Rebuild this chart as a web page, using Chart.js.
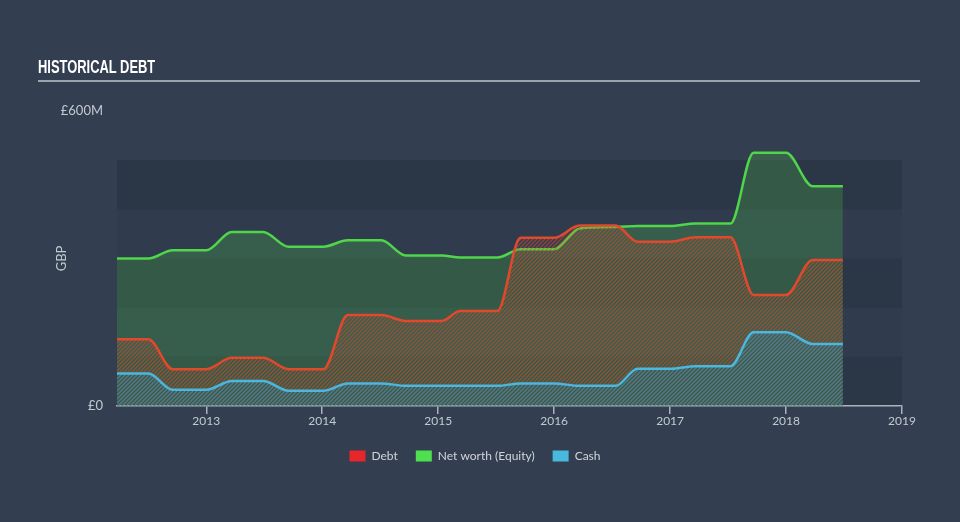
<!DOCTYPE html>
<html>
<head>
<meta charset="utf-8">
<script src="https://cdn.jsdelivr.net/npm/chart.js@4.4.1/dist/chart.umd.min.js"></script>
<style>
  html, body { margin: 0; padding: 0; background: #333f50; }
  #wrap { position: relative; width: 960px; height: 522px; }
  #title {
    position: absolute; left: 38px; top: 57px;
    color: #ffffff; font: bold 19px "Liberation Sans Narrow", sans-serif;
    line-height: 19px; white-space: nowrap;
    transform: scaleX(0.68); transform-origin: left top;
  }
  #rule { position: absolute; left: 38px; top: 80px; width: 882px; height: 2px; background: #9ba4ae; }
  canvas { position: absolute; left: 0; top: 0; }
</style>
</head>
<body>
<div id="wrap">
  <canvas id="chart" width="960" height="522"></canvas>
  <div id="title">HISTORICAL DEBT</div>
  <div id="rule"></div>
</div>
<script>
// Data (decimal years, values in £M)
const dates = [2012.23, 2012.5, 2012.71, 2013.0, 2013.22, 2013.49, 2013.71, 2014.01, 2014.22, 2014.51,
               2014.72, 2015.03, 2015.19, 2015.51, 2015.71, 2016.0, 2016.22, 2016.53, 2016.72, 2017.0,
               2017.22, 2017.52, 2017.72, 2018.0, 2018.23, 2018.49];
const debt   = [136, 136, 75, 75, 98, 98, 75, 75, 185, 185, 173, 173, 193, 193, 342, 342, 367, 367, 334, 334, 343, 343, 226, 226, 297, 297];
const equity = [300, 300, 317, 317, 354, 354, 324, 324, 337, 337, 306, 306, 302, 302, 319, 319, 361, 364, 366, 366, 371, 371, 515, 515, 447, 447];
const cash   = [66, 66, 33, 33, 51, 51, 31, 31, 46, 46, 41, 41, 41, 41, 46, 46, 41, 41, 76, 76, 81, 81, 150, 150, 126, 126];
const yearTicks = [2013, 2014, 2015, 2016, 2017, 2018, 2019];
const valueTicks = [0, 600];

const labelColor = '#c3c9d1';

function toPoints(values) {
    return values.map((v, i) => ({ x: dates[i], y: v }));
}

// diagonal hatch fill
function hatch(color) {
    const c = document.createElement('canvas');
    c.width = 4; c.height = 4;
    const g = c.getContext('2d');
    g.strokeStyle = color;
    g.lineWidth = 1.4;
    g.beginPath();
    g.moveTo(0, 4); g.lineTo(4, 0);
    g.moveTo(-1, 1); g.lineTo(1, -1);
    g.moveTo(3, 5); g.lineTo(5, 3);
    g.stroke();
    return g.createPattern(c, 'repeat');
}

// alternating horizontal bands behind the plot
const bands = {
    id: 'bands',
    beforeDraw(chart) {
        const { ctx, chartArea, scales } = chart;
        const y = scales.y;
        ctx.save();
        for (let i = 0; i < 5; i++) {
            const top = y.getPixelForValue((i + 1) * 100);
            const bottom = y.getPixelForValue(i * 100);
            ctx.fillStyle = i % 2 === 0 ? 'rgba(20,28,38,0.22)' : 'rgba(20,28,38,0.07)';
            ctx.fillRect(chartArea.left, top, chartArea.right - chartArea.left, bottom - top);
        }
        ctx.restore();
    }
};

// legend sits centred on the page, not on the plot
const legendShift = {
    id: 'legendShift',
    afterLayout(chart) {
        chart.legend.left += 24;
        chart.legend.right += 24;
    }
};

const ctx = document.getElementById('chart').getContext('2d');
new Chart(ctx, {
    type: 'line',
    data: {
        datasets: [
            {
                label: 'Debt',
                data: toPoints(debt),
                borderColor: 'rgb(226,72,44)',
                backgroundColor: hatch('rgba(214,78,50,0.55)'),
                legendColor: '#e8262a',
                fill: 'origin',
                order: 1
            },
            {
                label: 'Net worth (Equity)',
                data: toPoints(equity),
                borderColor: '#4fd64a',
                backgroundColor: 'rgba(72,160,74,0.33)',
                legendColor: '#4fe04f',
                fill: 'origin',
                order: 2
            },
            {
                label: 'Cash',
                data: toPoints(cash),
                borderColor: '#4bb6de',
                backgroundColor: hatch('rgba(40,150,200,0.6)'),
                legendColor: '#48b8de',
                fill: 'origin',
                order: 0
            }
        ]
    },
    options: {
        responsive: false,
        animation: false,
        layout: { padding: { top: 111, right: 58, bottom: 50, left: 0 } },
        elements: {
            point: { radius: 0 },
            line: { borderWidth: 2.5, cubicInterpolationMode: 'monotone' }
        },
        scales: {
            x: {
                type: 'linear',
                min: 2012.23,
                max: 2019,
                afterBuildTicks: s => { s.ticks = yearTicks.map(v => ({ value: v })); },
                afterFit: s => { s.height = 26; },
                ticks: {
                    color: labelColor,
                    font: { family: 'Lato', size: 12 },
                    padding: 0,
                    maxRotation: 0,
                    callback: v => String(v)
                },
                grid: { drawOnChartArea: false, drawTicks: true, tickLength: 8, color: '#aab3bd', lineWidth: 1.5 },
                border: { color: '#aab3bd', width: 1.5 }
            },
            y: {
                min: 0,
                max: 600,
                afterBuildTicks: s => { s.ticks = valueTicks.map(v => ({ value: v })); },
                afterFit: s => { s.width = 117; },
                ticks: {
                    color: labelColor,
                    font: { family: 'Lato', size: 13 },
                    padding: 14,
                    callback: v => v === 0 ? '£0' : '£' + v + 'M'
                },
                grid: { display: false, drawTicks: false },
                border: { display: false },
                title: {
                    display: true,
                    text: 'GBP',
                    color: labelColor,
                    font: { family: 'Lato', size: 13 },
                    padding: { top: 54, bottom: 0 }
                }
            }
        },
        plugins: {
            tooltip: { enabled: false },
            legend: {
                position: 'bottom',
                labels: {
                    boxWidth: 16,
                    boxHeight: 11,
                    padding: 18,
                    color: '#d0d5db',
                    font: { family: 'Lato', size: 12 },
                    generateLabels: chart => chart.data.datasets.map((ds, i) => ({
                        text: ds.label,
                        fillStyle: ds.legendColor,
                        strokeStyle: ds.legendColor,
                        lineWidth: 0,
                        fontColor: '#d0d5db',
                        datasetIndex: i
                    }))
                }
            }
        }
    },
    plugins: [bands, legendShift]
});
</script>
</body>
</html>
